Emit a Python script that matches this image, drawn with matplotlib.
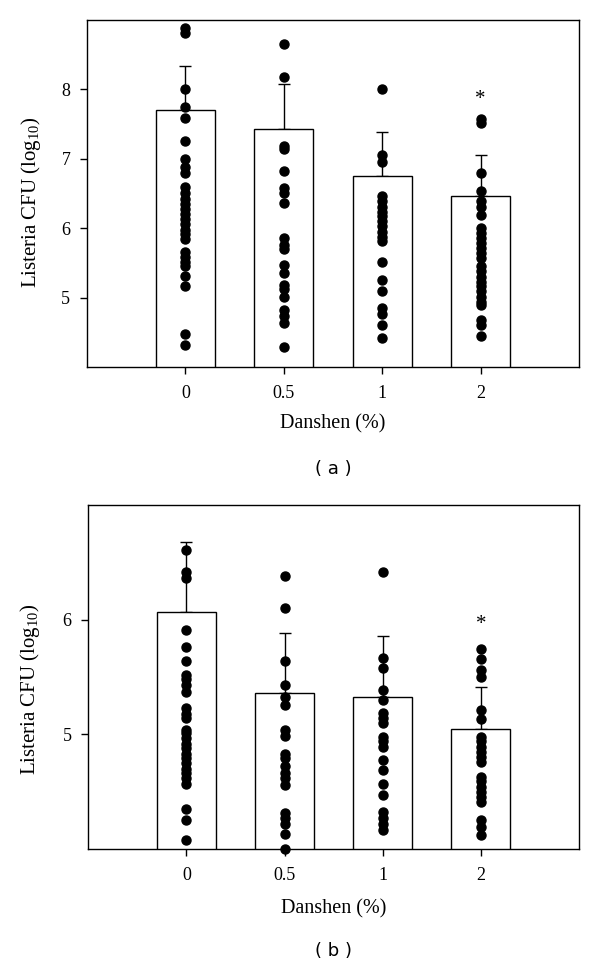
import numpy as np
import matplotlib.pyplot as plt

plt.rcParams['font.family'] = ['Liberation Serif', 'DejaVu Serif']
plt.rcParams['mathtext.fontset'] = 'custom'
plt.rcParams['mathtext.rm'] = 'Liberation Serif'

# ========== DATA ========== #
groups = ['0', '0.5', '1', '2']

# panel (a)
means_a = [7.71, 7.43, 6.75, 6.47]
sd_a = [0.63, 0.65, 0.64, 0.58]
pts_a = [
    [8.89, 8.82, 8.00, 7.75, 7.59, 7.26, 7.00, 6.88, 6.79, 6.59, 6.51, 6.42,
     6.35, 6.28, 6.20, 6.13, 6.06, 5.98, 5.91, 5.84, 5.66, 5.59, 5.52, 5.45,
     5.31, 5.16, 4.47, 4.31],
    [8.65, 8.18, 7.18, 7.14, 6.82, 6.58, 6.51, 6.36, 5.86, 5.76, 5.70, 5.47,
     5.35, 5.18, 5.12, 5.01, 4.82, 4.73, 4.64, 4.29],
    [8.00, 7.06, 6.96, 6.46, 6.39, 6.31, 6.24, 6.17, 6.10, 6.03, 5.95, 5.88,
     5.81, 5.52, 5.26, 5.10, 4.85, 4.77, 4.61, 4.42],
    [7.57, 7.51, 6.80, 6.53, 6.39, 6.31, 6.19, 6.00, 5.93, 5.86, 5.79, 5.71,
     5.64, 5.57, 5.45, 5.38, 5.30, 5.23, 5.16, 5.09, 5.01, 4.94, 4.89, 4.68,
     4.61, 4.44],
]
star_a = 7.86

# panel (b)
means_b = [6.07, 5.36, 5.33, 5.05]
sd_b = [0.61, 0.52, 0.53, 0.36]
pts_b = [
    [6.61, 6.42, 6.36, 5.91, 5.76, 5.64, 5.52, 5.48, 5.43, 5.37, 5.23, 5.18,
     5.14, 5.04, 5.01, 4.97, 4.92, 4.88, 4.83, 4.79, 4.75, 4.70, 4.66, 4.62,
     4.57, 4.35, 4.25, 4.08],
    [6.38, 6.10, 5.64, 5.43, 5.33, 5.26, 5.04, 4.99, 4.83, 4.79, 4.72, 4.66,
     4.62, 4.56, 4.31, 4.27, 4.22, 4.13, 4.00],
    [6.42, 5.67, 5.58, 5.39, 5.30, 5.19, 5.14, 5.10, 4.98, 4.94, 4.89, 4.78,
     4.69, 4.57, 4.47, 4.32, 4.27, 4.22, 4.17],
    [5.74, 5.66, 5.56, 5.50, 5.21, 5.13, 4.98, 4.94, 4.89, 4.85, 4.80, 4.76,
     4.63, 4.59, 4.54, 4.50, 4.45, 4.41, 4.25, 4.19, 4.12],
]
star_b = 5.96


def draw_panel(ax, means, sd, pts, star, ylim, yticks, tag,
               ylab_xy, xlab_y):
    x = np.arange(len(groups))
    ax.bar(x, means, width=0.6, color='white', edgecolor='black',
           linewidth=1.0, zorder=2)
    ax.errorbar(x, means, yerr=[np.zeros(len(sd)), sd], fmt='none',
                ecolor='black', elinewidth=1.0, capsize=4, capthick=1.0,
                zorder=1)
    for i, p in enumerate(pts):
        ax.plot(np.full(len(p), x[i]), p, 'o', color='black', ms=6.5,
                clip_on=False, zorder=3)
    ax.text(x[3], star, '*', ha='center', va='center', fontsize=15)
    ax.set_xlim(-1, 4)
    ax.set_ylim(*ylim)
    ax.set_xticks(x)
    ax.set_xticklabels(groups)
    ax.set_yticks(yticks)
    ax.tick_params(direction='out', length=5, width=1, labelsize=13)
    ax.tick_params(axis='x', pad=8)
    ax.tick_params(axis='y', pad=7)
    for s in ax.spines.values():
        s.set_linewidth(1.0)
    ax.set_xlabel('Danshen (%)', fontsize=14.5)
    ax.xaxis.set_label_coords(0.5, xlab_y)
    ax.set_ylabel(r'Listeria CFU (log$_{\mathregular{10}}$)', fontsize=15)
    ax.yaxis.set_label_coords(*ylab_xy)
    ax.text(0.5, -0.295, '( ' + tag + ' )', transform=ax.transAxes,
            ha='center', va='center', fontsize=13, family='DejaVu Sans')


fig = plt.figure(figsize=(6, 9.68), dpi=100)
ax1 = fig.add_axes([0.145, 0.6209, 0.82, 0.3584])
ax2 = fig.add_axes([0.147, 0.1229, 0.818, 0.3554])

draw_panel(ax1, means_a, sd_a, pts_a, star_a, (4, 9), [5, 6, 7, 8], 'a',
           (-0.089, 0.475), -0.135)
draw_panel(ax2, means_b, sd_b, pts_b, star_b, (4, 7), [5, 6], 'b',
           (-0.094, 0.465), -0.145)

fig.savefig('out.png', dpi=100)
